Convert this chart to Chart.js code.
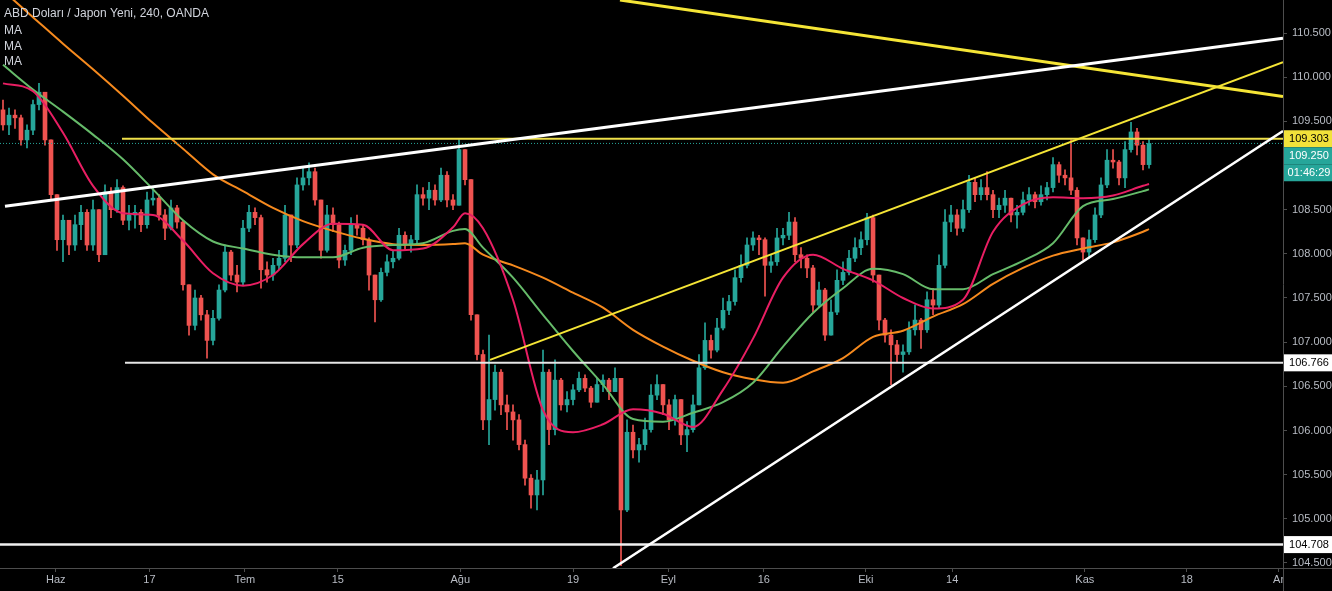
<!DOCTYPE html>
<html>
<head>
<meta charset="utf-8">
<script src="https://cdn.jsdelivr.net/npm/chart.js@4.4.1/dist/chart.umd.min.js"></script>
<style>
html,body{margin:0;padding:0;background:#000;overflow:hidden}
canvas{display:block}
</style>
</head>
<body>
<canvas id="c" width="1332" height="591"></canvas>
<script>
// ---------- text ----------
const titleText = 'ABD Doları / Japon Yeni, 240, OANDA';
const indicatorLabels = ['MA', 'MA', 'MA'];

// ---------- x axis (candle index) ----------
const xTickPos    = [8.8, 24.4, 40.3, 55.8, 76.2, 95, 110.9, 126.8, 143.8, 158.2, 180.3, 197.3, 212.6];
const xTickLabels = ['Haz', '17', 'Tem', '15', 'Ağu', '19', 'Eyl', '16', 'Eki', '14', 'Kas', '18', 'Ar'];
const xMin = -0.5, xMax = 213.33;

// ---------- y axis ----------
const yTicks = [104.5, 105, 105.5, 106, 106.5, 107, 107.5, 108, 108.5, 109.5, 110, 110.5];
const yMin = 104.443, yMax = 110.874;

// ---------- candles (4h) ----------
const firstOpen = 109.63;
const closes = [
109.46,109.57,109.54,109.29,109.40,109.69,109.83,109.29,108.67,108.16,
108.38,108.10,108.33,108.47,108.10,108.50,107.99,108.70,108.50,108.75,
108.38,108.44,108.47,108.33,108.61,108.63,108.44,108.29,108.52,108.36,
107.65,107.19,107.50,107.31,107.02,107.27,107.59,108.02,107.76,107.68,
108.29,108.47,108.41,107.82,107.76,107.87,107.95,108.44,108.10,108.78,
108.86,108.93,108.61,108.04,108.44,108.33,107.93,108.04,108.33,108.29,
108.16,107.76,107.48,107.79,107.91,107.95,108.21,108.10,108.16,108.67,
108.63,108.72,108.61,108.89,108.61,108.55,109.18,108.84,107.31,106.86,
106.12,106.35,106.66,106.29,106.21,106.12,105.84,105.46,105.27,105.44,
106.66,106.01,106.57,106.29,106.35,106.46,106.59,106.48,106.32,106.52,
106.57,106.44,106.59,105.10,105.98,105.78,105.84,106.01,106.40,106.52,
106.29,106.12,106.35,105.95,106.01,106.29,106.71,107.02,106.91,107.16,
107.36,107.46,107.73,107.87,108.10,108.18,108.16,107.87,107.91,108.18,
108.21,108.36,107.99,107.95,107.84,107.42,107.59,107.08,107.34,107.70,
107.79,107.95,108.07,108.16,108.41,107.76,107.25,107.08,106.97,106.86,
106.89,107.14,107.25,107.14,107.48,107.42,107.87,108.36,108.44,108.29,
108.50,108.81,108.67,108.75,108.67,108.50,108.55,108.63,108.44,108.47,
108.61,108.67,108.59,108.67,108.75,109.01,108.89,108.86,108.72,108.18,
108.02,108.16,108.44,108.78,109.06,109.04,108.86,109.18,109.38,109.23,
109.01,109.25
];
const highs = [
109.74,109.65,109.63,109.57,109.46,109.74,109.93,109.83,109.29,108.61,
108.44,108.38,108.44,108.55,108.50,108.61,108.50,108.78,108.75,108.84,
108.77,108.55,108.55,108.50,108.70,108.75,108.67,108.50,108.61,108.55,
108.38,107.65,107.59,107.53,107.36,107.36,107.65,108.10,108.04,107.87,
108.38,108.55,108.52,108.44,107.91,107.95,108.04,108.55,108.41,108.86,
108.97,109.03,108.97,108.61,108.55,108.52,108.36,108.10,108.41,108.44,
108.33,108.18,107.76,107.84,107.99,108.04,108.29,108.25,108.21,108.78,
108.75,108.81,108.78,108.97,108.93,108.67,109.29,109.18,108.84,107.31,
106.91,107.08,106.74,106.69,106.40,106.29,106.18,105.89,105.50,105.55,
106.91,106.69,106.80,106.59,106.44,106.52,106.66,106.63,106.50,106.59,
106.63,106.59,106.71,106.59,106.12,106.06,105.91,106.14,106.52,106.63,
106.40,106.35,106.40,106.35,106.10,106.40,106.86,107.22,107.08,107.27,
107.50,107.53,107.82,107.99,108.18,108.25,108.21,108.18,107.99,108.29,
108.29,108.47,108.41,108.07,107.99,107.87,107.68,107.61,107.48,107.82,
107.91,108.04,108.18,108.25,108.46,108.44,107.76,107.27,107.14,107.02,
106.97,107.23,107.42,107.27,107.57,107.61,107.99,108.50,108.55,108.50,
108.61,108.89,108.86,108.84,108.93,108.72,108.63,108.72,108.63,108.55,
108.70,108.75,108.70,108.77,108.81,109.09,109.04,108.95,109.29,108.75,
108.16,108.27,108.52,108.86,109.18,109.18,109.06,109.27,109.49,109.42,
109.27,109.29
];
const lows = [
109.40,109.35,109.42,109.23,109.20,109.35,109.63,109.23,108.61,108.04,
107.91,107.99,108.04,108.16,108.04,108.04,107.91,107.99,108.41,108.47,
108.33,108.27,108.29,108.25,108.29,108.55,108.38,108.16,108.27,108.29,
107.59,107.08,107.14,107.25,106.82,106.97,107.25,107.57,107.70,107.57,
107.65,108.25,108.33,107.61,107.68,107.70,107.82,107.91,107.91,108.07,
108.72,108.78,108.55,107.95,108.02,108.25,107.84,107.87,107.99,108.21,
108.10,107.59,107.23,107.46,107.75,107.84,107.93,108.04,108.02,108.10,
108.55,108.50,108.55,108.59,108.53,108.50,108.55,108.78,107.25,106.80,
106.01,105.84,106.23,106.18,106.01,105.89,105.78,105.38,105.12,105.10,
105.27,105.84,105.95,106.23,106.21,106.29,106.44,106.44,106.26,106.35,
106.44,106.35,106.46,104.47,105.08,105.69,105.64,105.78,105.98,106.35,
106.18,106.01,106.06,105.84,105.76,105.98,106.29,106.69,106.82,106.89,
107.14,107.31,107.42,107.68,107.84,108.04,107.99,107.52,107.79,107.87,
108.10,108.16,107.91,107.84,107.73,107.34,107.39,107.02,107.14,107.31,
107.65,107.76,107.91,107.99,108.10,107.68,107.14,107.00,106.52,106.78,
106.66,106.86,107.08,106.93,107.11,107.31,107.39,107.84,108.25,108.21,
108.25,108.47,108.59,108.61,108.61,108.41,108.41,108.47,108.36,108.29,
108.44,108.55,108.52,108.55,108.61,108.70,108.81,108.78,108.67,108.10,
107.93,107.95,108.13,108.41,108.75,108.97,108.78,108.75,109.15,109.12,
108.95,108.97
];

// ---------- moving averages (sampled at candle indices) ----------
const maIndex = [0,5,10,15,20,25,30,35,40,45,50,55,60,65,70,75,77,80,85,90,95,100,105,110,115,120,125,130,135,140,145,150,155,160,165,170,175,180,185,190,191];
const maFast = [109.93,109.84,109.37,108.77,108.46,108.44,108.15,107.78,107.64,107.76,108.11,108.34,108.33,108.04,108.06,108.30,108.46,108.29,107.48,106.23,105.98,106.07,106.24,106.19,106.04,106.46,107.04,107.73,107.99,107.83,107.70,107.50,107.38,107.48,108.25,108.56,108.64,108.63,108.66,108.77,108.79];
const maMid  = [110.14,109.86,109.61,109.35,109.07,108.73,108.38,108.14,108.06,107.99,107.96,107.96,108.07,108.10,108.12,108.26,108.28,108.07,107.73,107.31,106.90,106.52,106.13,106.10,106.20,106.32,106.54,106.95,107.33,107.61,107.83,107.77,107.60,107.60,107.77,107.92,108.12,108.54,108.62,108.71,108.73];
const maSlow = [110.98,110.68,110.38,110.09,109.79,109.48,109.19,108.90,108.71,108.52,108.37,108.26,108.17,108.11,108.10,108.11,108.12,107.99,107.87,107.73,107.56,107.39,107.14,106.95,106.79,106.66,106.58,106.54,106.67,106.82,107.06,107.13,107.29,107.43,107.66,107.84,107.98,108.06,108.13,108.25,108.28];

// ---------- drawn trend lines (start/end) ----------
const trendWhiteUpperX = [0.33, 213.33],  trendWhiteUpperY = [108.54, 110.44];
const trendYellowDownX = [102.83, 213.33], trendYellowDownY = [110.874, 109.78];
const trendYellowUpX   = [81.17, 213.33],  trendYellowUpY   = [106.80, 110.17];
const trendWhiteLowX   = [101.67, 213.33], trendWhiteLowY   = [104.44, 109.39];
const levelYellowX = [19.83, 213.33], levelYellow = 109.303;
const levelMidX    = [20.33, 213.33], levelMid    = 106.766;
const levelLowX    = [-0.5, 213.33],  levelLow    = 104.708;
const lastPrice = 109.25;
const countdown = '01:46:29';

// ---------- tags on price axis ----------
const tagValues = [109.303, 109.25, 109.25, 106.766, 104.708];
const tagTexts  = ['109.303', '109.250', countdown, '106.766', '104.708'];
const tagFills  = ['#f2e23a', '#26a69a', '#26a69a', '#ffffff', '#ffffff'];
const tagInk    = ['#000000', '#ffffff', '#ffffff', '#000000', '#000000'];

// ---------- build ----------
const UP = '#26a69a', DOWN = '#ef5350';
const opens = closes.map((c, i) => i === 0 ? firstOpen : closes[i - 1]);
const candleColors = closes.map((c, i) => c >= opens[i] ? UP : DOWN);
const wickData = closes.map((c, i) => ({x: i, y: [Math.min(lows[i], opens[i], c), Math.max(highs[i], opens[i], c)]}));
const bodyData = closes.map((c, i) => ({x: i, y: [opens[i], c]}));
const maPts = arr => maIndex.map((x, k) => ({x, y: arr[k]}));
const seg = (xs, ys) => xs.map((x, k) => ({x, y: ys[k]}));
const flat = (xs, v) => xs.map(x => ({x, y: v}));

const lineDs = (data, color, width, order, extra) => Object.assign({
  type: 'line', data, borderColor: color, borderWidth: width, pointRadius: 0,
  fill: false, order, clip: 0
}, extra || {});

const AXIS = '#4d4d4d', TXT = '#b8bcc4';
const FONT = '"Liberation Sans", Arial, sans-serif';

const overlay = {
  id: 'overlay',
  afterDraw(chart) {
    const ctx = chart.ctx, ys = chart.scales.y, a = chart.chartArea;
    ctx.save();
    ctx.strokeStyle = AXIS; ctx.lineWidth = 1;
    ctx.beginPath();
    ctx.moveTo(a.right + 0.5, a.bottom); ctx.lineTo(a.right + 0.5, chart.height);
    ctx.moveTo(a.right, a.bottom + 0.5); ctx.lineTo(chart.width, a.bottom + 0.5);
    ctx.stroke();
    // price tags
    const h = 17, boxL = a.right + 1, boxW = chart.width - a.right - 1;
    let prevBottom = -1e9;
    tagValues.forEach((v, i) => {
      let top = ys.getPixelForValue(v) - h / 2;
      if (top < prevBottom) top = prevBottom;
      prevBottom = top + h;
      ctx.fillStyle = tagFills[i];
      ctx.fillRect(boxL, top, boxW, h);
      ctx.fillStyle = tagInk[i];
      ctx.font = '11px ' + FONT;
      ctx.textBaseline = 'middle';
      ctx.textAlign = 'center';
      ctx.fillText(tagTexts[i], boxL + boxW / 2 + 1, top + h / 2 + 0.5);
    });
    // title + indicator names
    ctx.fillStyle = '#d1d4dc';
    ctx.font = '12px ' + FONT;
    ctx.textBaseline = 'middle';
    ctx.textAlign = 'left';
    ctx.fillText(titleText, 4, 14);
    indicatorLabels.forEach((t, k) => ctx.fillText(t, 4, 31 + k * 15.5));
    ctx.restore();
  }
};

new Chart(document.getElementById('c'), {
  type: 'bar',
  data: {
    datasets: [
      {type: 'bar', data: wickData, backgroundColor: candleColors, barThickness: 1, grouped: false, borderWidth: 0, order: 20},
      {type: 'bar', data: bodyData, backgroundColor: candleColors, barThickness: 4, grouped: false, borderWidth: 0, minBarLength: 1, order: 19},
      lineDs(maPts(maSlow), '#f68a1e', 2, 12, {cubicInterpolationMode: 'monotone'}),
      lineDs(maPts(maMid), '#66bb6a', 2, 11, {cubicInterpolationMode: 'monotone'}),
      lineDs(maPts(maFast), '#e91e63', 2, 10, {cubicInterpolationMode: 'monotone'}),
      lineDs(flat([xMin, xMax], lastPrice), '#26a69a', 1, 9, {borderDash: [1, 2]}),
      lineDs(flat(levelLowX, levelLow), '#f0f0f0', 2.5, 5),
      lineDs(flat(levelMidX, levelMid), '#e6e6e6', 2, 5),
      lineDs(flat(levelYellowX, levelYellow), '#efe04a', 2, 5),
      lineDs(seg(trendWhiteLowX, trendWhiteLowY), '#ffffff', 2.5, 4),
      lineDs(seg(trendYellowUpX, trendYellowUpY), '#f5e536', 2, 4),
      lineDs(seg(trendYellowDownX, trendYellowDownY), '#f5e536', 3, 4),
      lineDs(seg(trendWhiteUpperX, trendWhiteUpperY), '#ffffff', 3, 3)
    ]
  },
  options: {
    responsive: false,
    devicePixelRatio: 1,
    animation: false,
    events: [],
    layout: {padding: 0},
    plugins: {legend: {display: false}, tooltip: {enabled: false}, title: {display: false}},
    scales: {
      x: {
        type: 'linear', position: 'bottom', min: xMin, max: xMax, offset: false,
        grid: {display: true, offset: false, drawOnChartArea: false, drawTicks: true, tickLength: 4, color: AXIS},
        border: {display: true, color: AXIS},
        afterBuildTicks: s => { s.ticks = xTickPos.map(v => ({value: v})); },
        afterFit: s => { s.height = 23; s.paddingLeft = 0; s.paddingRight = 0; },
        ticks: {
          autoSkip: false, maxRotation: 0, minRotation: 0, padding: 1, color: TXT,
          font: {size: 11, family: FONT},
          callback: (v, i) => xTickLabels[i]
        }
      },
      y: {
        type: 'linear', position: 'right', min: yMin, max: yMax,
        grid: {display: true, drawOnChartArea: false, drawTicks: true, tickLength: 4, color: AXIS},
        border: {display: true, color: AXIS},
        afterBuildTicks: s => { s.ticks = yTicks.map(v => ({value: v})); },
        afterFit: s => { s.width = 49; s.paddingTop = 0; s.paddingBottom = 0; },
        ticks: {
          padding: 5, color: TXT, font: {size: 11, family: FONT},
          callback: v => Number(v).toFixed(3)
        }
      }
    }
  },
  plugins: [overlay]
});
</script>
</body>
</html>
